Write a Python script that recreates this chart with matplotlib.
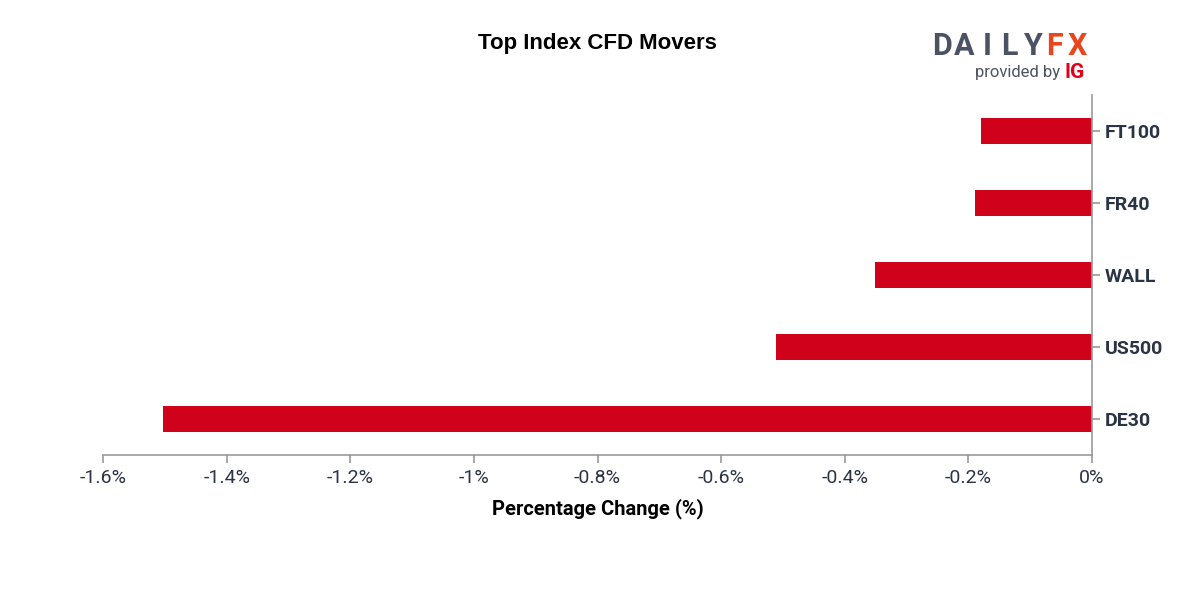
import matplotlib.pyplot as plt

categories = ["DE30", "US500", "WALL", "FR40", "FT100"]
values = [-1.503, -0.511, -0.351, -0.19, -0.18]
xticks = [-1.6, -1.4, -1.2, -1.0, -0.8, -0.6, -0.4, -0.2, 0.0]
xticklabels = ["-1.6%", "-1.4%", "-1.2%", "-1%", "-0.8%", "-0.6%", "-0.4%", "-0.2%", "0%"]

text_col = "#2a3444"
axis_col = "#999999"
red = "#d0021b"

fig = plt.figure(figsize=(12, 6), dpi=100)
ax = fig.add_axes([103 / 1200, 1 - 455 / 600, 989 / 1200, 360 / 600])

ax.barh(range(len(categories)), values, height=0.36, color=red)
ax.set_xlim(-1.6, 0)
ax.set_ylim(-0.5, len(categories) - 0.5)

for s in ["top", "left"]:
    ax.spines[s].set_visible(False)
for s in ["bottom", "right"]:
    ax.spines[s].set_color(axis_col)
    ax.spines[s].set_linewidth(1.2)

ax.yaxis.tick_right()
ax.set_yticks(range(len(categories)))
ax.set_yticklabels(categories, fontfamily="Roboto", fontweight="bold",
                   fontsize=14, color=text_col)
ax.set_xticks(xticks)
ax.set_xticklabels(xticklabels, fontfamily="Roboto", fontsize=14, color=text_col)
ax.tick_params(axis="both", color=axis_col, length=6, width=1.2)
ax.tick_params(axis="y", pad=3)
ax.tick_params(axis="x", pad=4)

ax.set_xlabel("Percentage Change (%)", fontfamily="Roboto", fontweight="bold",
              fontsize=14.5, color="black", labelpad=8)

fig.text(597 / 1200, 1 - 44 / 600, "Top Index CFD Movers", ha="center", va="center",
         fontfamily="Liberation Sans", fontweight="bold", fontsize=16, color="black")

# logo, spaced letters
logo = "DAILYFX"
logo_cols = ["#4a5263"] * 5 + ["#e8461d"] * 2
for i, (ch, c) in enumerate(zip(logo, logo_cols)):
    fig.text((942 + i * 22.5) / 1200, 1 - 46 / 600, ch, ha="center", va="center",
             fontfamily="Roboto", fontweight="bold", fontsize=22, color=c)
fig.text(1060 / 1200, 1 - 73 / 600, "provided by", ha="right", va="center",
         fontfamily="Roboto", fontsize=12, color="#4a5263")
fig.text(1065 / 1200, 1 - 73 / 600, "IG", ha="left", va="center",
         fontfamily="Roboto", fontweight="bold", fontsize=15, color="#e2001a")

fig.savefig("out.png", dpi=100, facecolor="white")
